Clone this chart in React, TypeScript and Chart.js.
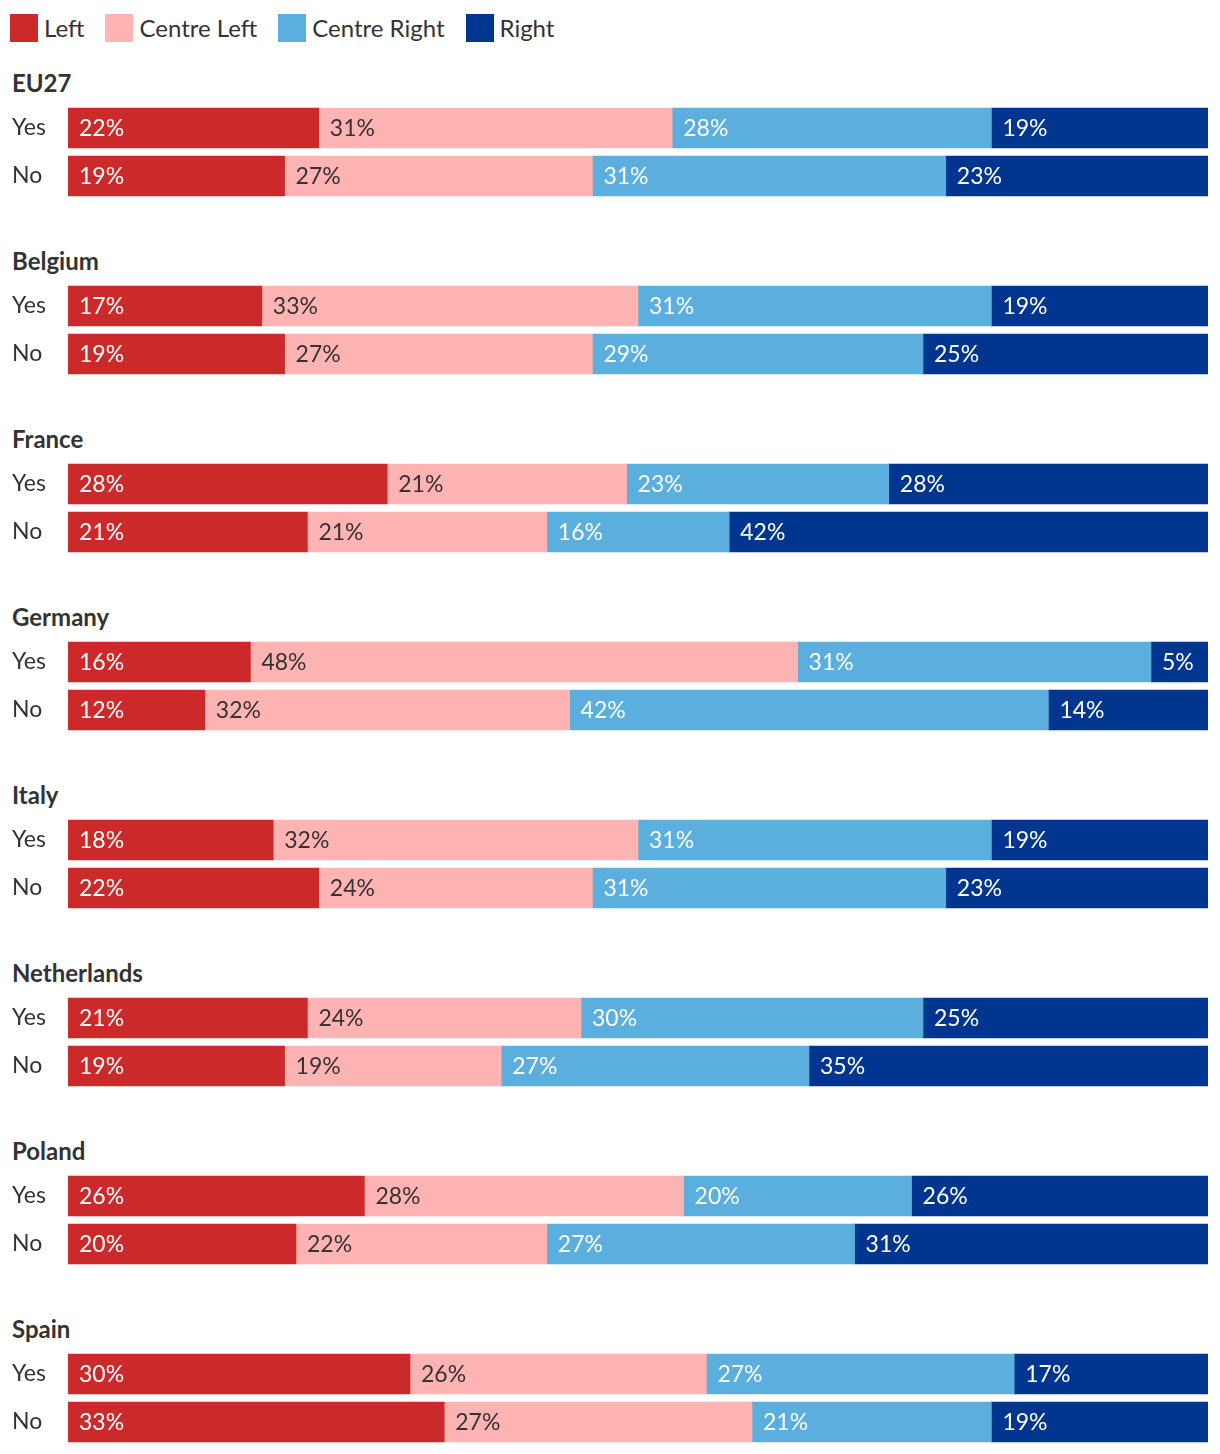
import React, { useEffect, useRef } from "react";
import { Chart, registerables } from "chart.js";

Chart.register(...registerables);

const groups = ["EU27", "Belgium", "France", "Germany", "Italy", "Netherlands", "Poland", "Spain"];
const answers = ["Yes", "No"];
const seriesNames = ["Left", "Centre Left", "Centre Right", "Right"];
const seriesColors = ["#cc2a2a", "#ffb3b3", "#5aafde", "#003590"];
const labelColors = ["#ffffff", "#333333", "#ffffff", "#ffffff"];

const leftYes = [22, 17, 28, 16, 18, 21, 26, 30];
const leftNo = [19, 19, 21, 12, 22, 19, 20, 33];
const centreLeftYes = [31, 33, 21, 48, 32, 24, 28, 26];
const centreLeftNo = [27, 27, 21, 32, 24, 19, 22, 27];
const centreRightYes = [28, 31, 23, 31, 31, 30, 20, 27];
const centreRightNo = [31, 29, 16, 42, 31, 27, 27, 21];
const rightYes = [19, 19, 28, 5, 19, 25, 26, 17];
const rightNo = [23, 25, 42, 14, 23, 35, 31, 19];

const yesSeries = [leftYes, centreLeftYes, centreRightYes, rightYes];
const noSeries = [leftNo, centreLeftNo, centreRightNo, rightNo];

const FONT = "Lato, 'Open Sans', sans-serif";
const TEXT = "#333333";
const FS = 24;

const labelPlugin = {
  id: "segLabels",
  afterDatasetsDraw(chart: any) {
    const ctx = chart.ctx;
    ctx.save();
    ctx.font = `${FS - 1}px ${FONT}`;
    ctx.textBaseline = "middle";
    ctx.textAlign = "left";
    chart.data.datasets.forEach((ds: any, di: number) => {
      const meta = chart.getDatasetMeta(di);
      meta.data.forEach((bar: any, i: number) => {
        const v = ds.data[i];
        const left = Math.min(bar.base, bar.x);
        ctx.fillStyle = labelColors[di];
        ctx.fillText(`${v}%`, left + 11, bar.y + 1);
      });
    });
    ctx.restore();
  },
};

function GroupChart({ index }: { index: number }) {
  const ref = useRef<HTMLCanvasElement | null>(null);
  useEffect(() => {
    if (!ref.current) return;
    const chart = new Chart(ref.current, {
      type: "bar",
      data: {
        labels: answers,
        datasets: seriesNames.map((name, s) => ({
          label: name,
          data: [yesSeries[s][index], noSeries[s][index]],
          backgroundColor: seriesColors[s],
          borderWidth: 0,
          barThickness: 40,
        })),
      },
      options: {
        indexAxis: "y",
        animation: false,
        responsive: true,
        maintainAspectRatio: false,
        layout: { padding: { left: 4, right: 0, top: 0, bottom: 0 } },
        plugins: { legend: { display: false }, tooltip: { enabled: false } },
        scales: {
          x: { stacked: true, min: 0, max: 100, display: false },
          y: {
            stacked: true,
            grid: { display: false },
            border: { display: false },
            afterFit: (scale: any) => {
              scale.width = 56;
              scale.paddingTop = 0;
              scale.paddingBottom = 0;
            },
            ticks: {
              crossAlign: "far",
              padding: 0,
              color: TEXT,
              font: { family: FONT, size: FS - 1 },
            },
          },
        },
      } as any,
      plugins: [labelPlugin],
    });
    return () => chart.destroy();
  }, [index]);
  return (
    <div style={{ height: 178 }}>
      <div
        style={{
          height: 28,
          lineHeight: "28px",
          paddingLeft: 4,
          fontFamily: FONT,
          fontWeight: 700,
          fontSize: FS,
          color: TEXT,
          marginBottom: 7,
        }}
      >
        {groups[index]}
      </div>
      <div style={{ position: "relative", width: 1200, height: 96 }}>
        <canvas ref={ref} />
      </div>
    </div>
  );
}

export default function App() {
  return (
    <div style={{ width: 1204 }}>
      <div style={{ display: "flex", alignItems: "center", height: 28, marginTop: 6, paddingLeft: 2, marginBottom: 27 }}>
        {seriesNames.map((n, i) => (
          <div key={n} style={{ display: "flex", alignItems: "center", marginRight: 21 }}>
            <div style={{ width: 28, height: 28, background: seriesColors[i], marginRight: 6 }} />
            <span style={{ fontFamily: FONT, fontSize: FS, color: TEXT, lineHeight: "28px" }}>{n}</span>
          </div>
        ))}
      </div>
      {groups.map((g, i) => (
        <GroupChart key={g} index={i} />
      ))}
    </div>
  );
}
